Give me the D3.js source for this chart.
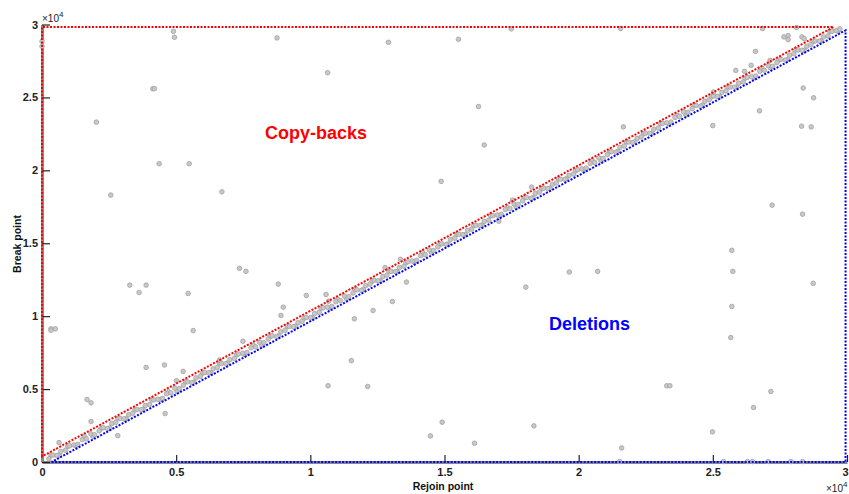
<!DOCTYPE html>
<html>
<head>
<meta charset="utf-8">
<script src="https://cdn.jsdelivr.net/npm/d3@7"></script>
<style>
  html, body { margin: 0; padding: 0; background: #fff; }
  svg { display: block; font-family: "Liberation Sans", Arial, sans-serif; }
</style>
</head>
<body>
<svg id="chart" width="849" height="494"></svg>
<script>
// Tick positions and their labels (values are shown in units of 10^4)
const tickValues = [0, 5000, 10000, 15000, 20000, 25000, 30000];
const tickLabels = ["0", "0.5", "1", "1.5", "2", "2.5", "3"];

// Junctions lying along the diagonal: [rejoin point, break point]
const bandJunctions = [
  [260,220],[410,470],[560,450],[700,720],[880,810],[1030,1120],[1190,1170],[1340,1210],
  [1500,1540],[1650,1590],[1820,1930],[1960,1870],[2130,2130],[2280,2350],[2440,2290],[2600,2630],
  [2750,2720],[2910,2990],[3060,2960],[3230,3240],[3380,3340],[3540,3600],[3700,3590],[3850,3870],
  [4010,3940],[4170,4260],[4320,4300],[4490,4360],[4640,4680],[4800,4740],[4950,5060],[5120,5030],
  [5270,5270],[5430,5500],[5590,5440],[5740,5770],[5900,5870],[6060,6140],[6210,6110],[6380,6390],
  [6530,6490],[6690,6750],[6850,6740],[7000,7020],[7170,7100],[7320,7410],[7480,7460],[7640,7510],
  [7790,7830],[7960,7900],[8110,8220],[8270,8180],[8430,8430],[8580,8650],[8750,8600],[8900,8930],
  [9060,9030],[9220,9300],[9370,9270],[9540,9550],[9690,9650],[9850,9910],[10010,9900],[10160,10180],
  [10330,10260],[10480,10570],[10640,10620],[10800,10670],[10950,10990],[11120,11060],[11270,11380],[11430,11340],
  [11590,11590],[11740,11810],[11910,11760],[12060,12090],[12220,12190],[12380,12460],[12530,12430],[12700,12710],
  [12850,12810],[13010,13070],[13170,13060],[13320,13340],[13490,13420],[13640,13730],[13800,13780],[13960,13830],
  [14110,14150],[14280,14220],[14430,14540],[14590,14500],[14750,14750],[14900,14970],[15070,14920],[15220,15250],
  [15380,15350],[15540,15620],[15690,15590],[15860,15870],[16010,15970],[16170,16230],[16330,16220],[16480,16500],
  [16650,16580],[16800,16890],[16960,16940],[17120,16990],[17270,17310],[17440,17380],[17590,17700],[17750,17660],
  [17910,17910],[18060,18130],[18230,18080],[18380,18410],[18540,18510],[18700,18780],[18850,18750],[19020,19030],
  [19170,19130],[19330,19390],[19490,19380],[19640,19660],[19810,19740],[19960,20050],[20120,20100],[20280,20150],
  [20430,20470],[20600,20540],[20750,20860],[20910,20820],[21070,21070],[21220,21290],[21390,21240],[21540,21570],
  [21700,21670],[21860,21940],[22010,21910],[22180,22190],[22330,22290],[22490,22550],[22650,22540],[22800,22820],
  [22970,22900],[23120,23210],[23280,23260],[23440,23310],[23590,23630],[23760,23700],[23910,24020],[24070,23980],
  [24230,24230],[24380,24450],[24550,24400],[24700,24730],[24860,24830],[25020,25100],[25170,25070],[25340,25350],
  [25490,25450],[25650,25710],[25810,25700],[25960,25980],[26130,26060],[26280,26370],[26440,26420],[26600,26470],
  [26750,26790],[26920,26860],[27070,27180],[27230,27140],[27390,27390],[27540,27610],[27710,27560],[27860,27890],
  [28020,27990],[28180,28260],[28330,28230],[28500,28510],[28650,28610],[28810,28870],[28970,28860],[29120,29140],
  [29290,29220],[29440,29530],[29600,29580],[29730,29700]
];

// Further diagonal junctions with slightly larger offsets: [rejoin point, break point]
const bandJunctionsOuter = [
  [335,485],[650,470],[960,1070],[1270,1110],[1580,1750],[1890,1760],[2200,2290],[2520,2330],
  [2830,2980],[3140,2960],[3460,3570],[3770,3610],[4090,4260],[4400,4270],[4720,4810],[5030,4840],
  [5350,5500],[5660,5480],[5980,6090],[6290,6130],[6610,6780],[6920,6790],[7240,7330],[7550,7360],
  [7870,8020],[8190,8010],[8500,8610],[8820,8660],[9140,9310],[9450,9320],[9770,9860],[10080,9890],
  [10400,10550],[10720,10540],[11030,11140],[11350,11190],[11660,11830],[11980,11850],[12300,12390],[12610,12420],
  [12930,13080],[13240,13060],[13560,13670],[13880,13720],[14190,14360],[14510,14380],[14820,14910],[15140,14950],
  [15460,15610],[15770,15590],[16090,16200],[16400,16240],[16720,16890],[17040,16910],[17350,17440],[17670,17480],
  [17980,18130],[18300,18120],[18620,18730],[18930,18770],[19250,19420],[19560,19430],[19880,19970],[20200,20010],
  [20510,20660],[20830,20650],[21140,21250],[21460,21300],[21780,21950],[22090,21960],[22410,22500],[22720,22530],
  [23040,23190],[23360,23180],[23670,23780],[23990,23830],[24300,24470],[24620,24490],[24940,25030],[25250,25060],
  [25570,25720],[25880,25700],[26200,26310],[26520,26360],[26830,27000],[27150,27020],[27460,27550],[27780,27590],
  [28100,28250],[28410,28230],[28730,28840],[29040,28880],[29360,29530],[29670,29540]
];

// Scattered junctions away from the diagonal: [rejoin point, break point]
const scatteredJunctions = [
  [4899,29536],[4936,29123],[8757,29082],[4130,25594],[4190,25600],[2026,23303],[4365,20454],[5485,20454],
  [2563,18301],[6705,18528],[0,28848],[0,28504],[17487,29701],[12909,28779],[15521,28986],[10645,26694],
  [16267,24376],[16480,21741],[14876,19244],[18245,18851],[17536,17957],[17025,16512],[21565,29722],[26852,29722],
  [28120,29790],[27807,29240],[27807,28965],[27647,29151],[28319,29151],[28404,29034],[26591,28160],[27136,27541],
  [26427,27197],[25856,26853],[26180,26784],[28367,25642],[28755,24974],[26741,24080],[25025,25367],[21666,22979],
  [24998,23069],[28307,23028],[28666,22979],[27210,17613],[28344,16994],[336,9130],[336,9033],[496,9130],
  [3272,12129],[3619,11627],[3880,12129],[7361,13278],[7600,13072],[8805,12198],[8992,10616],[8906,10045],
  [9850,11421],[5447,11558],[5634,9013],[7488,8277],[3880,6488],[4563,6653],[5261,6213],[5011,5573],
  [6615,6997],[1679,4286],[1828,4059],[1828,2773],[2824,1809],[4589,3323],[634,1328],[10585,11490],
  [10682,11029],[12786,13327],[13357,13898],[13581,12336],[13059,11008],[12338,10389],[11641,9818],[18032,11992],
  [19651,13024],[11529,6949],[10660,5229],[12137,5181],[14913,2731],[14476,1789],[16118,1287],[18331,2477],
  [20707,13072],[25744,13072],[25707,14517],[25707,10664],[25669,8531],[27162,4837],[26517,3736],[24987,2064],
  [28741,12246],[23281,5229],[23400,5229],[21603,963],[25397,30],[26293,30],[26480,30],[27062,30],
  [27909,30],[28345,30],[21528,30]
];

// Boundary triangles of the two regions: [rejoin point, break point]
const copyBackRegion = [[0,380],[0,29830],[29500,29830]];
const deletionRegion = [[360,0],[29946,0],[29946,29600]];

const svg = d3.select("#chart");

const x = d3.scaleLinear().domain([0, 30000]).range([42, 847]);
const y = d3.scaleLinear().domain([0, 30000]).range([462, 24.5]);

// Axes: gray axis lines with short inward ticks
const xAxis = d3.axisBottom(x)
  .tickValues(tickValues)
  .tickFormat((d, i) => tickLabels[i])
  .tickSizeInner(-7).tickSizeOuter(0).tickPadding(6);
const yAxis = d3.axisLeft(y)
  .tickValues(tickValues)
  .tickFormat((d, i) => tickLabels[i])
  .tickSizeInner(-8).tickSizeOuter(0).tickPadding(4);

const gx = svg.append("g").attr("transform", "translate(0,462)").call(xAxis);
const gy = svg.append("g").attr("transform", "translate(42,0)").call(yAxis);

[gx, gy].forEach(g => {
  g.select(".domain").attr("stroke", "#8a8a8a").attr("stroke-width", 3);
  g.selectAll(".tick line").attr("stroke", "#222").attr("stroke-width", 1.2);
  g.selectAll(".tick text")
    .attr("fill", "#222")
    .style("font-size", "11px")
    .style("font-weight", "bold")
    .style("font-family", "'Liberation Sans', Arial, sans-serif");
});
// keep the last x label inside the page edge
gx.selectAll(".tick text").filter((d, i) => i === tickValues.length - 1).attr("dx", -2);

// Exponent annotations for both axes
function exponentLabel(px, py) {
  const t = svg.append("text")
    .attr("x", px).attr("y", py)
    .attr("fill", "#222")
    .style("font-size", "10px");
  t.append("tspan").text("\u00d710");
  t.append("tspan").attr("dy", -5).style("font-size", "8px").text("4");
}
exponentLabel(42, 22);
exponentLabel(826, 492);

// Axis titles
svg.append("text")
  .attr("x", 443).attr("y", 490)
  .attr("text-anchor", "middle")
  .attr("fill", "#111")
  .style("font-size", "10.5px").style("font-weight", "bold")
  .text("Rejoin point");

svg.append("text")
  .attr("transform", "translate(21,244) rotate(-90)")
  .attr("text-anchor", "middle")
  .attr("fill", "#111")
  .style("font-size", "10.5px").style("font-weight", "bold")
  .text("Break point");

// Junction markers
const markers = svg.append("g");
function drawMarkers(data) {
  markers.selectAll(null)
    .data(data)
    .enter().append("circle")
    .attr("cx", d => x(d[0]))
    .attr("cy", d => y(d[1]))
    .attr("r", 2.3)
    .attr("fill", "#c8c8c8")
    .attr("stroke", "#a2a2a2")
    .attr("stroke-width", 0.8);
}
drawMarkers(bandJunctionsOuter);
drawMarkers(bandJunctions);
drawMarkers(scatteredJunctions);

// Dotted region boundaries
const line = d3.line().x(d => x(d[0])).y(d => y(d[1]));
svg.append("path")
  .attr("d", line(copyBackRegion) + "Z")
  .attr("fill", "none")
  .attr("stroke", "#ff0000")
  .attr("stroke-width", 2)
  .attr("stroke-dasharray", "2,1.5");
svg.append("path")
  .attr("d", line(deletionRegion) + "Z")
  .attr("fill", "none")
  .attr("stroke", "#0000ff")
  .attr("stroke-width", 2)
  .attr("stroke-dasharray", "2,1.5");

// Region labels
svg.append("text")
  .attr("x", 265).attr("y", 139)
  .attr("fill", "#ff0000")
  .style("font-size", "18px").style("font-weight", "bold")
  .text("Copy-backs");
svg.append("text")
  .attr("x", 549).attr("y", 330)
  .attr("fill", "#0000ff")
  .style("font-size", "18px").style("font-weight", "bold")
  .text("Deletions");
</script>
</body>
</html>
